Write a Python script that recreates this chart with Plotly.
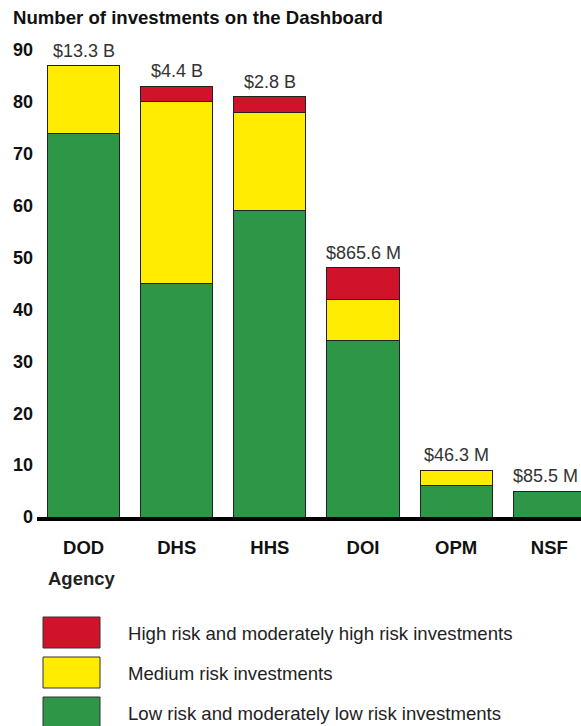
import plotly.graph_objects as go

agencies = ["DOD", "DHS", "HHS", "DOI", "OPM", "NSF"]
low_risk = [74, 45, 59, 34, 6, 5]
medium_risk = [13, 35, 19, 8, 3, 0]
high_risk = [0, 3, 3, 6, 0, 0]
spending = ["$13.3 B", "$4.4 B", "$2.8 B", "$865.6 M", "$46.3 M", "$85.5 M"]

legend_names = [
    "High risk and moderately high risk investments",
    "Medium risk investments",
    "Low risk and moderately low risk investments",
]
RED, YELLOW, GREEN = "#d0132b", "#ffec00", "#2e9647"
FONT = "Liberation Sans, Arial, sans-serif"

W, H = 581, 726
ml, mr, mt, mb = 37, 0, 50, H - 517
pw, ph = W - ml - mr, H - mt - mb


def px(x):
    return (x - ml) / pw


def py(y):
    return (H - mb - y) / ph


fig = go.Figure()
for vals, color, name in [(low_risk, GREEN, legend_names[2]),
                          (medium_risk, YELLOW, legend_names[1]),
                          (high_risk, RED, legend_names[0])]:
    fig.add_trace(go.Bar(x=agencies, y=vals, name=name, width=0.775,
                         marker=dict(color=color, line=dict(color="#222222", width=1))))

totals = [a + b + c for a, b, c in zip(low_risk, medium_risk, high_risk)]
for i, (ag, tot, lab) in enumerate(zip(agencies, totals, spending)):
    # last label sits against the right edge of the window
    shift = -4 if i == len(agencies) - 1 else 0
    fig.add_annotation(x=ag, y=tot, text=lab, showarrow=False, yanchor="bottom", yshift=3,
                       xshift=shift, font=dict(family=FONT, size=18, color="#333333"))

# title and axis name
fig.add_annotation(x=px(11), y=py(18), xref="paper", yref="paper",
                   text="<b>Number of investments on the Dashboard</b>",
                   showarrow=False, xanchor="left", yanchor="middle",
                   font=dict(family=FONT, size=18.6, color="#111111"))
fig.add_annotation(x=px(46), y=py(578), xref="paper", yref="paper", text="<b>Agency</b>",
                   showarrow=False, xanchor="left", yanchor="middle",
                   font=dict(family=FONT, size=18.5, color="#222222"))

# custom legend with large swatches
for i, (name, color) in enumerate(zip(legend_names, [RED, YELLOW, GREEN])):
    top = 617 + 40 * i
    fig.add_shape(type="rect", xref="paper", yref="paper", x0=px(43), x1=px(100),
                  y0=py(top), y1=py(top + 31),
                  fillcolor=color, line=dict(color="#333333", width=1))
    fig.add_annotation(x=px(126), y=py(top + 16), xref="paper", yref="paper", text=name,
                       showarrow=False, xanchor="left", yanchor="middle",
                       font=dict(family=FONT, size=18.6, color="#222222"))

fig.update_layout(
    barmode="stack", width=W, height=H, showlegend=False,
    margin=dict(l=ml, r=mr, t=mt, b=mb, autoexpand=False),
    plot_bgcolor="white", paper_bgcolor="white",
    font=dict(family=FONT, color="#111111"),
)
fig.update_xaxes(range=[-0.5, 5.34], showline=True, linecolor="black", linewidth=4,
                 ticks="", ticklabelstandoff=11, automargin=False,
                 tickfont=dict(family=FONT, size=18.5, color="#111111", weight="bold"))
fig.update_yaxes(range=[0, 90], tickvals=list(range(0, 100, 10)), showgrid=False, zeroline=False,
                 ticklabelstandoff=3, automargin=False,
                 tickfont=dict(family=FONT, size=18, color="#111111", weight="bold"))

# drop the default 8px page margin so the figure fills the window
fig.write_html("out.html", config={"displayModeBar": False},
               post_script="document.body.style.margin='0';")
